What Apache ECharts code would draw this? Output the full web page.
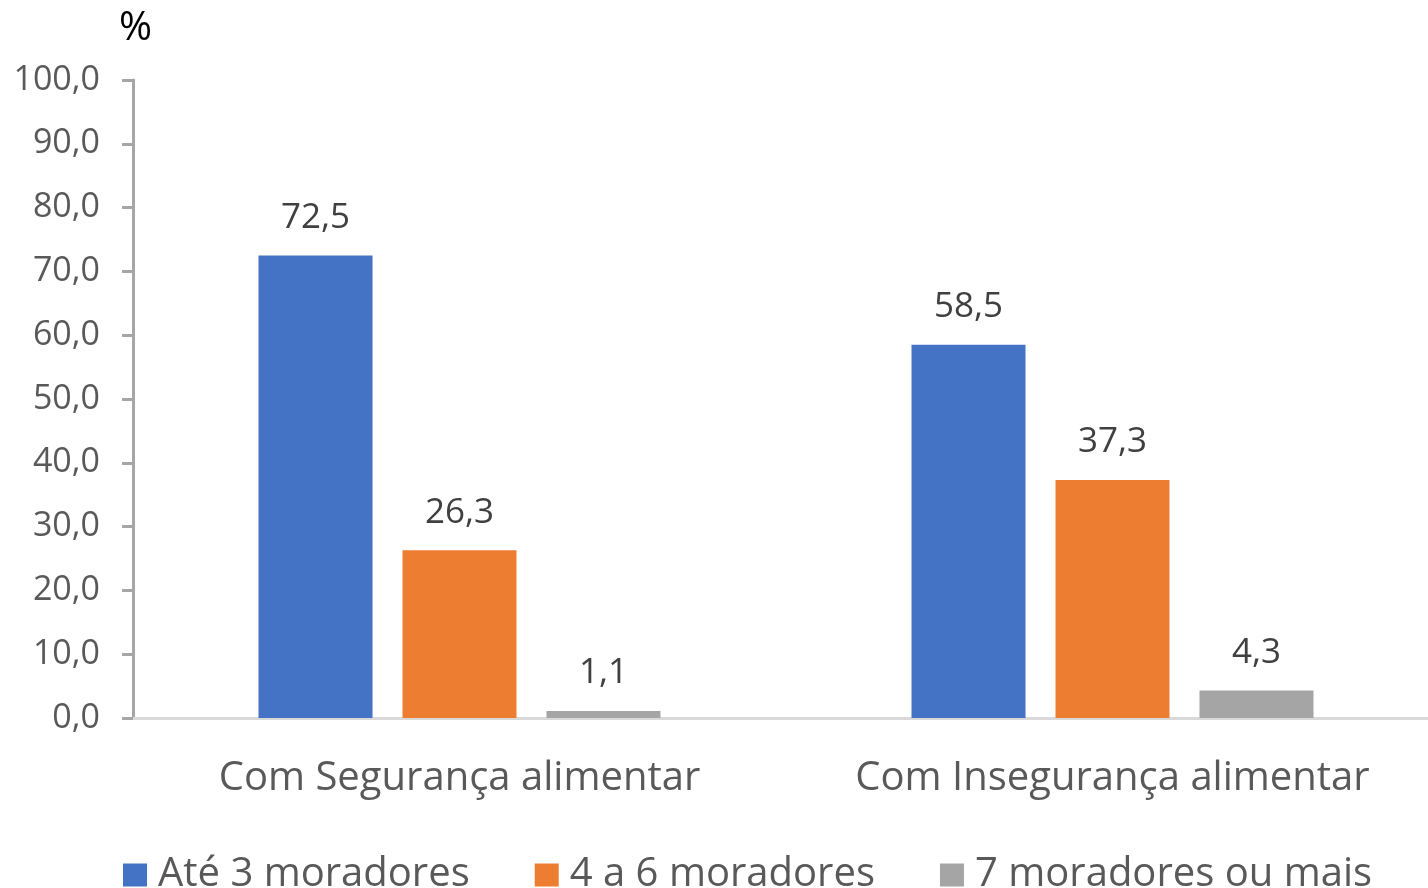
<!DOCTYPE html>
<html><head><meta charset="utf-8">
<script src="https://cdn.jsdelivr.net/npm/echarts@6/dist/echarts.min.js"></script>
<style>html,body{margin:0;padding:0;background:#fff}#c{width:1428px;height:888px}</style>
</head><body><div id="c"></div>
<script>
var categories = ['Com Segurança alimentar', 'Com Insegurança alimentar'];
var seriesNames = ['Até 3 moradores', '4 a 6 moradores', '7 moradores ou mais'];
var ate3 = [72.5, 58.5];
var de4a6 = [26.3, 37.3];
var mais7 = [1.1, 4.3];
var colors = ['#4472C4', '#ED7D31', '#A5A5A5'];
var FONT = '"Open Sans", "Noto Sans", sans-serif';
function fmt(v){ return v.toFixed(1).replace('.', ','); }
var chart = echarts.init(document.getElementById('c'));
var values = [ate3, de4a6, mais7];
chart.setOption({
  animation: false,
  textStyle: {fontFamily: FONT},
  grid: {left: 133, top: 80, width: 1306, height: 638, containLabel: false, outerBoundsMode: 'none'},
  title: {text: '%', left: 114, top: 4, textStyle: {fontFamily: FONT, fontSize: 40, fontWeight: 'normal', color: '#000'}},
  legend: {
    left: 118, top: 850, itemWidth: 24, itemHeight: 23, itemGap: 65,
    icon: 'rect',
    textStyle: {fontFamily: FONT, fontSize: 40, color: '#595959', padding: [0,0,0,6]},
    data: seriesNames
  },
  xAxis: {
    type: 'category', data: categories,
    axisLine: {lineStyle: {color: '#d9d9d9', width: 3}},
    axisTick: {show: false},
    axisLabel: {fontFamily: FONT, fontSize: 40, color: '#595959', margin: 41, interval: 0, hideOverlap: false}
  },
  yAxis: {
    type: 'value', min: 0, max: 100, interval: 10,
    splitLine: {show: false},
    axisLine: {show: true, lineStyle: {color: '#a6a6a6', width: 3}},
    axisTick: {show: true, length: 11, lineStyle: {color: '#a6a6a6', width: 3}},
    axisLabel: {fontFamily: FONT, fontSize: 34, color: '#595959', margin: 33, formatter: fmt}
  },
  series: seriesNames.map(function(n, i){
    return {
      name: n, type: 'bar', data: values[i], barWidth: 114, barGap: '26.3%',
      itemStyle: {color: colors[i]},
      label: {show: true, position: 'top', distance: 20, fontFamily: FONT, fontSize: 35, color: '#404040', formatter: function(p){ return fmt(p.value); }}
    };
  })
});
</script></body></html>
